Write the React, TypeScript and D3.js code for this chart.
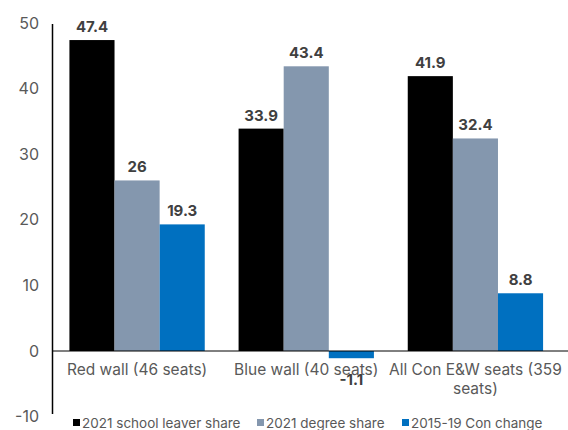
import React from "react";
import * as d3 from "d3";

const categories = ["Red wall (46 seats)", "Blue wall (40 seats)", "All Con E&W seats (359 seats)"];
const categoryLines = [["Red wall (46 seats)"], ["Blue wall (40 seats)"], ["All Con E&W seats (359", "seats)"]];
const seriesNames = ["2021 school leaver share", "2021 degree share", "2015-19 Con change"];
const schoolLeaver = [47.4, 33.9, 41.9];
const degreeShare = [26, 43.4, 32.4];
const conChange = [19.3, -1.1, 8.8];
const yTicks = [-10, 0, 10, 20, 30, 40, 50];
const colors = ["#000000", "#8497AE", "#0070C0"];

const W = 568, H = 430;
const FONT = "Inter, 'Liberation Sans', Arial, sans-serif";

export default function App() {
  const series = [schoolLeaver, degreeShare, conChange];
  const y = d3.scaleLinear().domain([-10, 50]).range([416.6, 23]);
  const x0 = d3.scaleBand<string>().domain(categories).range([52.5, 560]).paddingInner(0.2).paddingOuter(0.1);
  const x1 = d3.scaleBand<number>().domain([0, 1, 2]).range([0, x0.bandwidth()]);
  const fmt = (v: number) => String(v);
  const legendX = [73, 257, 402];

  return (
    <svg width={W} height={H} style={{ position: "absolute", left: 0, top: 0, background: "#fff" }}>
      {yTicks.map((t) => (
        <text key={t} x={39} y={y(t)} dy="0.35em" textAnchor="end" fontSize={16} fill="#595959" fontFamily={FONT}>
          {t}
        </text>
      ))}
      {categories.map((c, ci) =>
        series.map((s, si) => {
          const v = s[ci];
          const bx = (x0(c) as number) + (x1(si) as number);
          const top = y(Math.max(0, v));
          const h = Math.abs(y(v) - y(0));
          return (
            <g key={c + si}>
              <rect x={bx} y={top} width={x1.bandwidth()} height={h} fill={colors[si]} />
              <text
                x={bx + x1.bandwidth() / 2}
                y={v >= 0 ? y(v) - 8 : y(v) + 27}
                textAnchor="middle"
                fontSize={15}
                fontWeight="bold"
                fill="#404040"
                fontFamily={FONT}
              >
                {fmt(v)}
              </text>
            </g>
          );
        })
      )}
      <line x1={53} x2={568} y1={y(0)} y2={y(0)} stroke="#000" strokeWidth={1} />
      <line x1={52.5} x2={52.5} y1={24} y2={414} stroke="#000" strokeWidth={1.5} />
      {categories.map((c, ci) => (
        <text key={c} textAnchor="middle" fontSize={15.5} fill="#595959" fontFamily={FONT}>
          {categoryLines[ci].map((ln, li) => (
            <tspan key={li} x={(x0(c) as number) + x0.bandwidth() / 2} y={375 + li * 19}>
              {ln}
            </tspan>
          ))}
        </text>
      ))}
      {seriesNames.map((n, i) => (
        <g key={n}>
          <rect x={legendX[i]} y={419} width={7} height={7} fill={colors[i]} />
          <text x={legendX[i] + 9} y={427.5} fontSize={13.5} fill="#595959" fontFamily={FONT}>
            {n}
          </text>
        </g>
      ))}
    </svg>
  );
}
